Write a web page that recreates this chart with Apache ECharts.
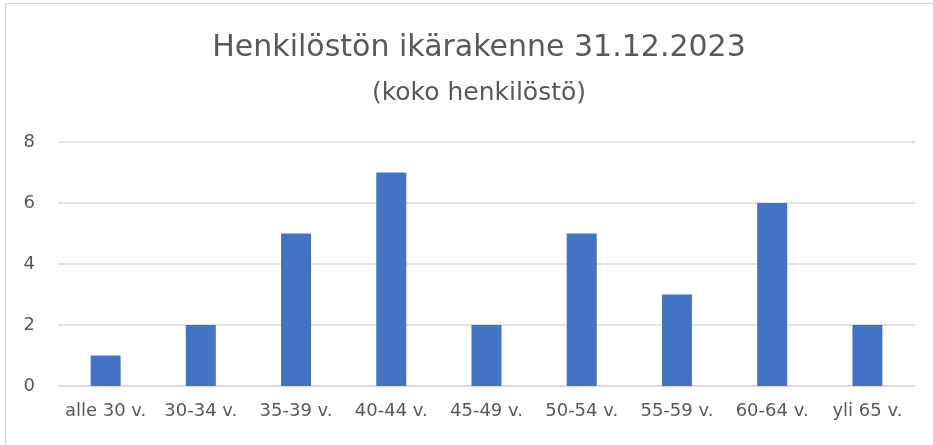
<!DOCTYPE html>
<html>
<head>
<meta charset="utf-8">
<script src="https://cdn.jsdelivr.net/npm/echarts@6/dist/echarts.min.js"></script>
<style>
    html, body { margin: 0; padding: 0; background: #fff; overflow: hidden; }
    #frame { position: absolute; left: 5px; top: 3px; right: 0; bottom: 0; border-left: 1px solid #d9d9d9; border-top: 1px solid #d9d9d9; }
    #chart { position: absolute; left: 0; top: 0; width: 933px; height: 445px; }
</style>
</head>
<body>
<div id="frame"></div>
<div id="chart"></div>
<script>
    // ikäryhmät ja henkilömäärät
    var categories = ['alle 30 v.', '30-34 v.', '35-39 v.', '40-44 v.', '45-49 v.', '50-54 v.', '55-59 v.', '60-64 v.', 'yli 65 v.'];
    var counts = [1, 2, 5, 7, 2, 5, 3, 6, 2];
    var yTicks = { min: 0, max: 8, interval: 2 };

    var font = '"DejaVu Sans", sans-serif';
    var chart = echarts.init(document.getElementById('chart'));
    chart.setOption({
        animation: false,
        title: [
            {
                text: 'Henkilöstön ikärakenne 31.12.2023',
                left: 474, top: 28, textAlign: 'center',
                textStyle: { fontFamily: font, fontSize: 30, fontWeight: 'normal', color: '#595959' }
            },
            {
                text: '(koko henkilöstö)',
                left: 474, top: 76, textAlign: 'center',
                textStyle: { fontFamily: font, fontSize: 25, fontWeight: 'normal', color: '#595959' }
            }
        ],
        grid: { left: 58, right: 18, top: 142, bottom: 59, containLabel: false },
        xAxis: {
            type: 'category',
            data: categories,
            axisLine: { lineStyle: { color: '#d9d9d9', width: 1.5 } },
            axisTick: { show: false },
            axisLabel: { interval: 0, fontFamily: font, fontSize: 18, color: '#595959', margin: 16 }
        },
        yAxis: {
            type: 'value',
            min: yTicks.min, max: yTicks.max, interval: yTicks.interval,
            axisLine: { show: false },
            axisTick: { show: false },
            splitLine: { lineStyle: { color: '#d9d9d9', width: 1.5 } },
            axisLabel: { fontFamily: font, fontSize: 18, color: '#595959', margin: 23 }
        },
        series: [{
            type: 'bar',
            data: counts,
            barWidth: '31.5%',
            itemStyle: { color: '#4472C4' }
        }]
    });
</script>
</body>
</html>
